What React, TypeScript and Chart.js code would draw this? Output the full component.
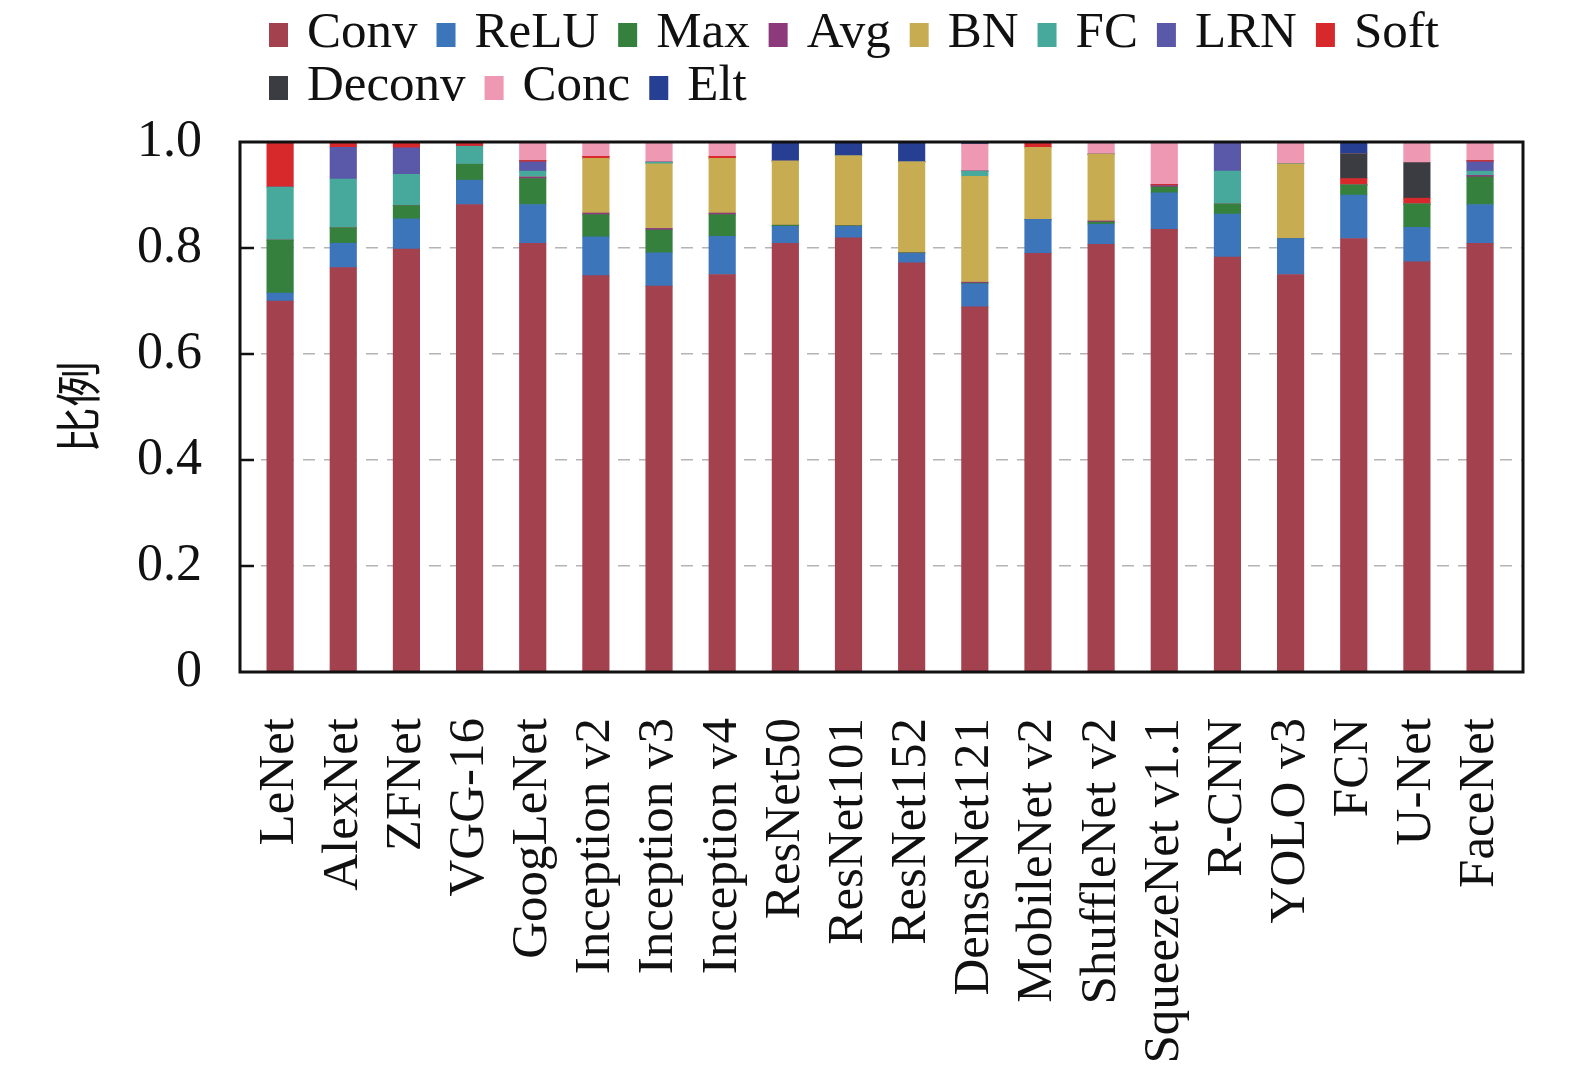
import { useEffect, useRef } from 'react';
import { Chart, registerables } from 'chart.js';

Chart.register(...registerables);

const networks = [
  'LeNet', 'AlexNet', 'ZFNet', 'VGG-16', 'GoogLeNet', 'Inception v2', 'Inception v3',
  'Inception v4', 'ResNet50', 'ResNet101', 'ResNet152', 'DenseNet121', 'MobileNet v2',
  'ShuffleNet v2', 'SqueezeNet v1.1', 'R-CNN', 'YOLO v3', 'FCN', 'U-Net', 'FaceNet',
];

// share of each layer type per network (bottom to top)
const conv = [0.70, 0.763, 0.798, 0.882, 0.809, 0.748, 0.728, 0.750, 0.809, 0.819, 0.772, 0.689, 0.790, 0.807, 0.835, 0.783, 0.750, 0.818, 0.774, 0.809];
const relu = [0.015, 0.046, 0.057, 0.046, 0.073, 0.073, 0.063, 0.072, 0.032, 0.022, 0.018, 0.0435, 0.064, 0.038, 0.069, 0.081, 0.068, 0.082, 0.065, 0.073];
const maxPool = [0.10, 0.029, 0.025, 0.030, 0.049, 0.042, 0.043, 0.041, 0.002, 0.001, 0.001, 0.001, 0, 0.004, 0.011, 0.019, 0, 0.019, 0.044, 0.052];
const avgPool = [0, 0, 0, 0, 0.003, 0.003, 0.003, 0.003, 0, 0, 0, 0.002, 0, 0.002, 0.003, 0, 0, 0, 0, 0.003];
const bn = [0, 0, 0, 0, 0, 0.103, 0.122, 0.103, 0.121, 0.132, 0.1715, 0.1995, 0.136, 0.126, 0, 0, 0.141, 0, 0, 0];
const fc = [0.10, 0.092, 0.059, 0.034, 0.011, 0, 0.003, 0, 0, 0, 0, 0.010, 0, 0, 0, 0.062, 0, 0, 0, 0.008];
const lrn = [0, 0.060, 0.050, 0, 0.0175, 0, 0, 0, 0, 0, 0, 0, 0, 0, 0, 0.055, 0, 0, 0, 0.0175];
const soft = [0.085, 0.010, 0.011, 0.008, 0.0025, 0.004, 0, 0.004, 0, 0, 0, 0, 0.010, 0, 0.002, 0, 0, 0.012, 0.011, 0.0025];
const deconv = [0, 0, 0, 0, 0, 0, 0, 0, 0, 0, 0, 0, 0, 0, 0, 0, 0, 0.047, 0.067, 0];
const conc = [0, 0, 0, 0, 0.035, 0.027, 0.038, 0.027, 0, 0, 0, 0.051, 0, 0.023, 0.080, 0, 0.041, 0, 0.039, 0.035];
const elt = [0, 0, 0, 0, 0, 0, 0, 0, 0.036, 0.026, 0.0375, 0.004, 0, 0, 0, 0, 0, 0.022, 0, 0];

const layerNames = ['Conv', 'ReLU', 'Max', 'Avg', 'BN', 'FC', 'LRN', 'Soft', 'Deconv', 'Conc', 'Elt'];
const layerValues = [conv, relu, maxPool, avgPool, bn, fc, lrn, soft, deconv, conc, elt];
const layerColors = ['#a3414e', '#3d75bb', '#34803c', '#8c3a7c', '#c8ac52', '#47a99b', '#5a58a8', '#d7282c', '#3b3c41', '#ee98b4', '#263f93'];

const yTicks = [0, 0.2, 0.4, 0.6, 0.8, 1.0];

const SERIF = '"Liberation Serif", "DejaVu Serif", serif';

const framePlugin = {
  id: 'frameAndLegend',
  afterDraw(chart: any) {
    const { ctx, chartArea: a, scales } = chart;
    const y = scales.y;
    ctx.save();

    // inward tick marks on the left axis
    ctx.strokeStyle = '#111';
    ctx.lineWidth = 2.5;
    yTicks.forEach((v) => {
      if (v <= 0 || v >= 1) return;
      const py = y.getPixelForValue(v);
      ctx.beginPath();
      ctx.moveTo(a.left, py);
      ctx.lineTo(a.left + 14, py);
      ctx.stroke();
    });

    // plot frame
    ctx.lineWidth = 3;
    ctx.strokeRect(a.left, a.top, a.right - a.left, a.bottom - a.top);

    // legend, two rows
    ctx.font = `51px ${SERIF}`;
    ctx.textBaseline = 'alphabetic';
    ctx.textAlign = 'left';
    const rows = [chart.data.datasets.slice(0, 8), chart.data.datasets.slice(8)];
    const baselines = [47, 100];
    rows.forEach((row: any[], r: number) => {
      let x = 269;
      const base = baselines[r];
      row.forEach((ds) => {
        ctx.fillStyle = ds.backgroundColor;
        ctx.fillRect(x, base - 24, 19, 24);
        x += 19 + 19;
        ctx.fillStyle = '#111';
        ctx.fillText(ds.label, x, base);
        x += ctx.measureText(ds.label).width + 19;
      });
    });

    ctx.restore();
  },
};

export default function App() {
  const chartRef = useRef<HTMLCanvasElement>(null);
  const chartInstance = useRef<Chart | null>(null);

  useEffect(() => {
    document.body.style.margin = '0';
    if (!chartRef.current) return;
    if (chartInstance.current) {
      chartInstance.current.destroy();
    }
    const ctx = chartRef.current.getContext('2d');
    if (!ctx) return;

    chartInstance.current = new Chart(ctx, {
      type: 'bar',
      data: {
        datasets: layerNames.map((name, k) => ({
          label: name,
          data: layerValues[k].map((v, i) => ({ x: i, y: v })),
          backgroundColor: layerColors[k],
          borderWidth: 0,
          barThickness: 26.5,
          grouped: false,
        })),
      },
      options: {
        responsive: false,
        animation: false,
        layout: { padding: { top: 142, right: 52, left: 0, bottom: 0 } },
        plugins: {
          legend: { display: false },
          tooltip: { enabled: false },
        },
        scales: {
          x: {
            type: 'linear',
            stacked: true,
            offset: false,
            min: -0.635,
            max: 19.68,
            afterFit: (s: any) => {
              s.height = 406;
              s.paddingLeft = 0;
              s.paddingRight = 0;
            },
            afterBuildTicks: (s: any) => { s.ticks = networks.map((_, i) => ({ value: i })); },
            grid: { display: false, drawTicks: false, offset: false },
            border: { display: false },
            ticks: {
              autoSkip: false,
              minRotation: 90,
              maxRotation: 90,
              padding: 46,
              color: '#111',
              font: { family: SERIF, size: 51 },
              callback: (v: any) => networks[v as number] ?? '',
            },
          },
          y: {
            stacked: true,
            min: 0,
            max: 1,
            afterFit: (s: any) => {
              s.width = 240;
              s.paddingTop = 0;
              s.paddingBottom = 0;
            },
            afterBuildTicks: (s: any) => { s.ticks = yTicks.map((v) => ({ value: v })); },
            grid: {
              drawTicks: false,
              lineWidth: 1.5,
              color: (c: any) => (c.tick && c.tick.value > 0 && c.tick.value < 1 ? '#b4b4b4' : 'rgba(0,0,0,0)'),
            },
            border: { display: false, dash: [12, 9] },
            title: {
              display: true,
              text: '比例',
              color: '#111',
              font: { family: '"Noto Sans CJK SC", sans-serif', size: 46, weight: 'normal' },
              padding: { top: 50, bottom: 0 },
            },
            ticks: {
              padding: 38,
              color: '#111',
              font: { family: SERIF, size: 52 },
              callback: (v: any) => (v === 0 ? '0' : Number(v).toFixed(1)),
            },
          },
        },
      } as any,
      plugins: [framePlugin],
    });

    return () => {
      if (chartInstance.current) {
        chartInstance.current.destroy();
        chartInstance.current = null;
      }
    };
  }, []);

  return (
    <div style={{ width: 1575, height: 1078, background: '#fff' }}>
      <canvas ref={chartRef} width={1575} height={1078} />
    </div>
  );
}
